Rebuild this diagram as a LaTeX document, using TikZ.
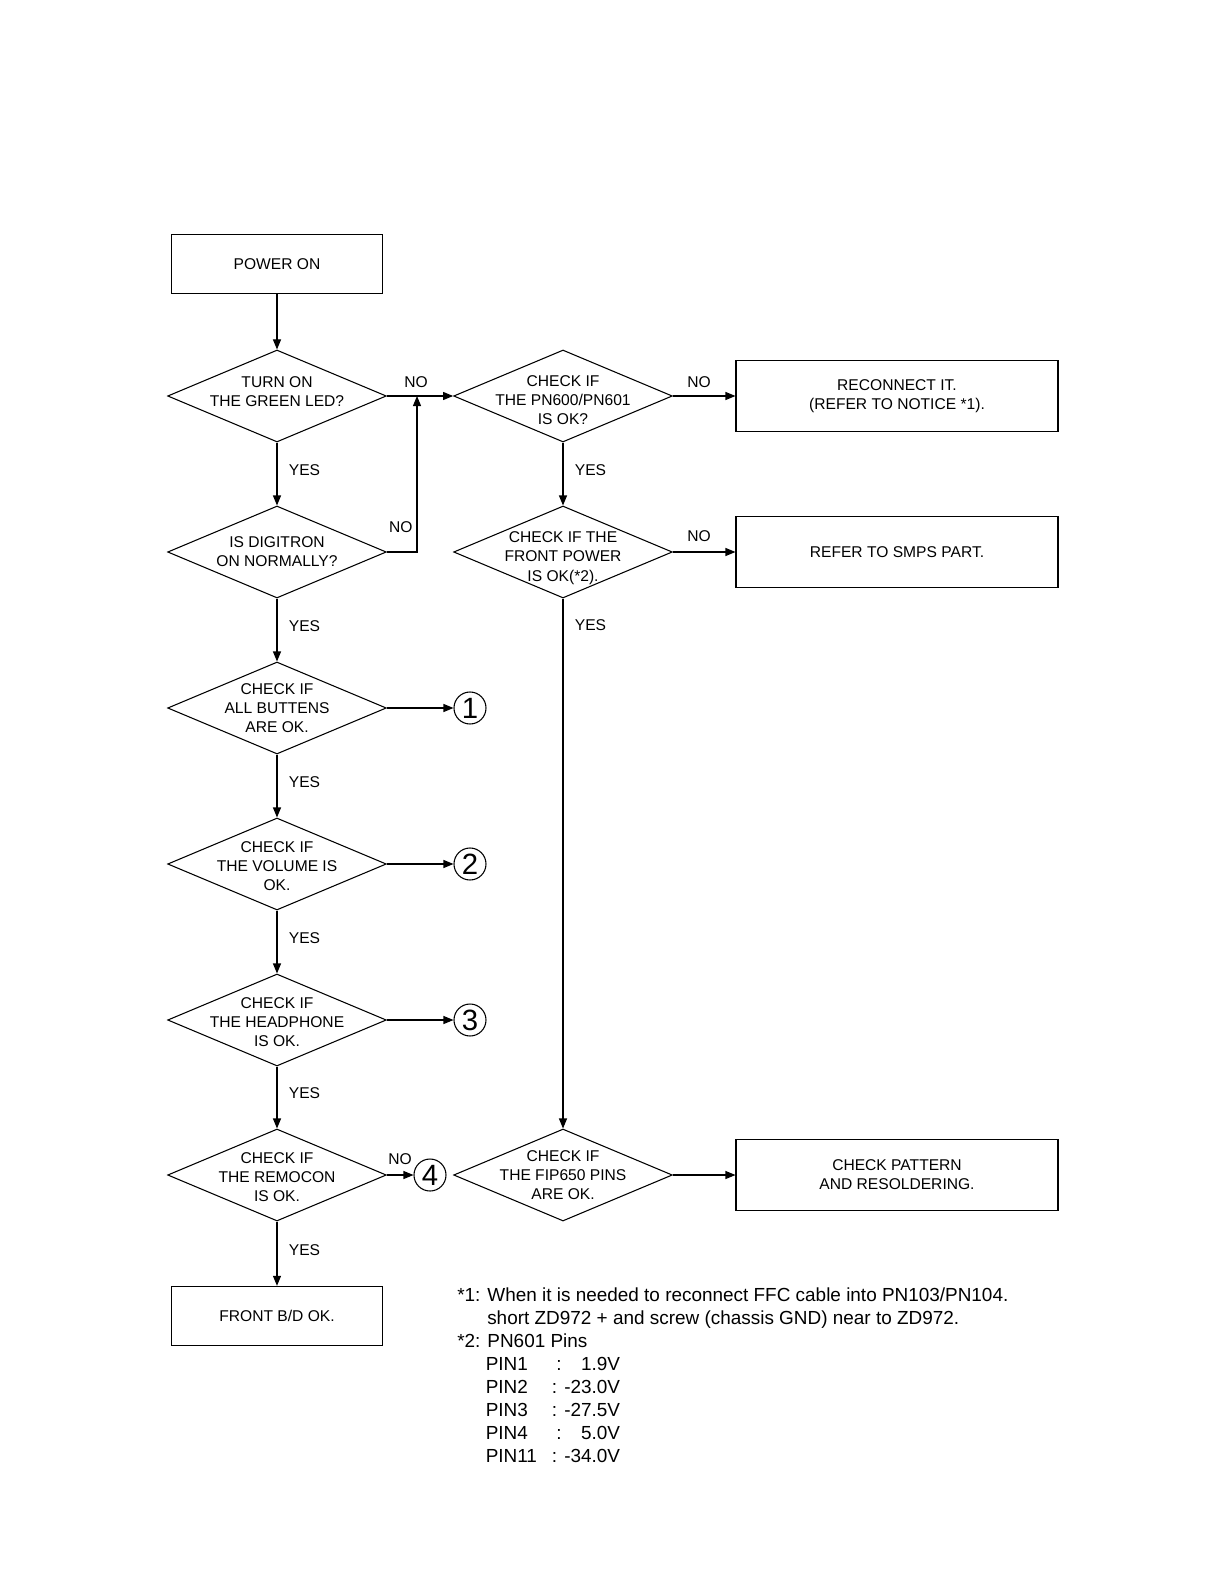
\documentclass[tikz,border=0pt]{standalone}
\usepackage{fontspec}
\setmainfont{Liberation Sans}
\usetikzlibrary{arrows.meta, shapes.geometric, positioning}
\newcommand{\chartfont}{\fontsize{11.7pt}{14.4pt}\selectfont}
\newcommand{\notefont}{\fontsize{14.2pt}{17.25pt}\selectfont}
\newcommand{\pinline}[2]{\hspace*{21.4pt}\makebox[53pt][l]{#1}\makebox[47.7pt][r]{#2}}

\begin{document}
\begin{tikzpicture}[x=0.75pt,y=-0.75pt,
    procbox/.style={draw,line width=0.8pt,font=\chartfont,align=center,
                    minimum width=158pt,minimum height=44.5pt,inner sep=0pt},
    widebox/.style={procbox,minimum width=241.5pt,minimum height=53pt},
    decision/.style={diamond,draw,line width=0.8pt,inner sep=0pt,
                     minimum width=164pt,minimum height=69pt},
    circ/.style={circle,draw,line width=0.8pt,minimum size=24pt,inner sep=0pt,
                 font=\fontsize{22pt}{22pt}\selectfont},
    arr/.style={-{Triangle[length=7.5pt,width=6pt]},line width=0.8pt},
    lbl/.style={font=\chartfont,inner sep=2pt},
    yes/.style={lbl,right,xshift=6.5pt,yshift=3pt}
  ]
    \useasboundingbox (0,0) rectangle (1219,1587);
    \node[procbox] (power) at (277,264) {POWER ON};
    \node[decision,label={[font=\chartfont,align=center,yshift=3pt]center:TURN ON\\THE GREEN LED?}] (green) at (277,396) {};
    \node[decision,label={[font=\chartfont,align=center]center:IS DIGITRON\\ON NORMALLY?}] (digitron) at (277,552) {};
    \node[decision,label={[font=\chartfont,align=center]center:CHECK IF\\ALL BUTTENS\\ARE OK.}] (buttons) at (277,708) {};
    \node[decision,label={[font=\chartfont,align=center,yshift=-1.5pt]center:CHECK IF\\THE VOLUME IS\\OK.}] (volume) at (277,864) {};
    \node[decision,label={[font=\chartfont,align=center,yshift=-1.5pt]center:CHECK IF\\THE HEADPHONE\\IS OK.}] (phone) at (277,1020) {};
    \node[decision,label={[font=\chartfont,align=center,yshift=-1.5pt]center:CHECK IF\\THE REMOCON\\IS OK.}] (remocon) at (277,1175) {};
    \node[procbox] (frontok) at (277,1316) {FRONT B/D OK.};
    \node[decision,label={[font=\chartfont,align=center,yshift=-3pt]center:CHECK IF\\THE PN600/PN601\\IS OK?}] (pncheck) at (563,396) {};
    \node[decision,label={[font=\chartfont,align=center,yshift=-4.5pt]center:CHECK IF THE\\FRONT POWER\\IS OK(*2).}] (fpower) at (563,552) {};
    \node[decision,label={[font=\chartfont,align=center]center:CHECK IF\\THE FIP650 PINS\\ARE OK.}] (fippins) at (563,1175) {};
    \node[widebox] (reconnect) at (897,396) {RECONNECT IT.\\(REFER TO NOTICE *1).};
    \node[widebox] (smps) at (897,552) {REFER TO SMPS PART.};
    \node[widebox] (pattern) at (897,1175) {CHECK PATTERN\\AND RESOLDERING.};
    \node[circ] (one) at (470,708) {1};
    \node[circ] (two) at (470,864) {2};
    \node[circ] (three) at (470,1020) {3};
    \node[circ] (four) at (430,1175) {4};
    \coordinate (nojoin) at (417,396);
    \draw[arr] (power)--(green);
    \draw[arr] (green)-- node[yes]{YES} (digitron);
    \draw[arr] (digitron)-- node[yes]{YES} (buttons);
    \draw[arr] (buttons)-- node[yes]{YES} (volume);
    \draw[arr] (volume)-- node[yes]{YES} (phone);
    \draw[arr] (phone)-- node[yes]{YES} (remocon);
    \draw[arr] (remocon)-- node[yes]{YES} (frontok);
    \draw[arr] (green)-- node[lbl,above,xshift=-3pt,yshift=3.5pt]{NO} (pncheck);
    \draw[arr] (digitron.east) -| node[lbl,pos=0.58,left,xshift=-1pt]{NO} (nojoin);
    \draw[arr] (pncheck)-- node[lbl,above,xshift=-3.75pt,yshift=3.5pt]{NO} (reconnect);
    \draw[arr] (pncheck)-- node[yes]{YES} (fpower);
    \draw[arr] (fpower)-- node[lbl,above,xshift=-3.75pt,yshift=5.5pt]{NO} (smps);
    \draw[arr] (fpower)-- node[lbl,right,xshift=6.5pt,pos=0.05]{YES} (fippins);
    \draw[arr] (fippins)--(pattern);
    \draw[arr] (buttons)--(one);
    \draw[arr] (volume)--(two);
    \draw[arr] (phone)--(three);
    \draw[arr] (remocon)-- node[lbl,above,yshift=5pt]{NO} (four);
    \node[anchor=north west,align=left,inner sep=0pt,font=\notefont] (notes) at (457,1287)
      {*1: When it is needed to reconnect FFC cable into PN103/PN104.\\
       \hspace*{22.5pt}short ZD972 + and screw (chassis GND) near to ZD972.\\
       *2: PN601 Pins\\
       \pinline{PIN1}{:\hfill 1.9V}\\
       \pinline{PIN2}{: -23.0V}\\
       \pinline{PIN3}{: -27.5V}\\
       \pinline{PIN4}{:\hfill 5.0V}\\
       \pinline{PIN11}{: -34.0V}};
  \end{tikzpicture}
\end{document}
